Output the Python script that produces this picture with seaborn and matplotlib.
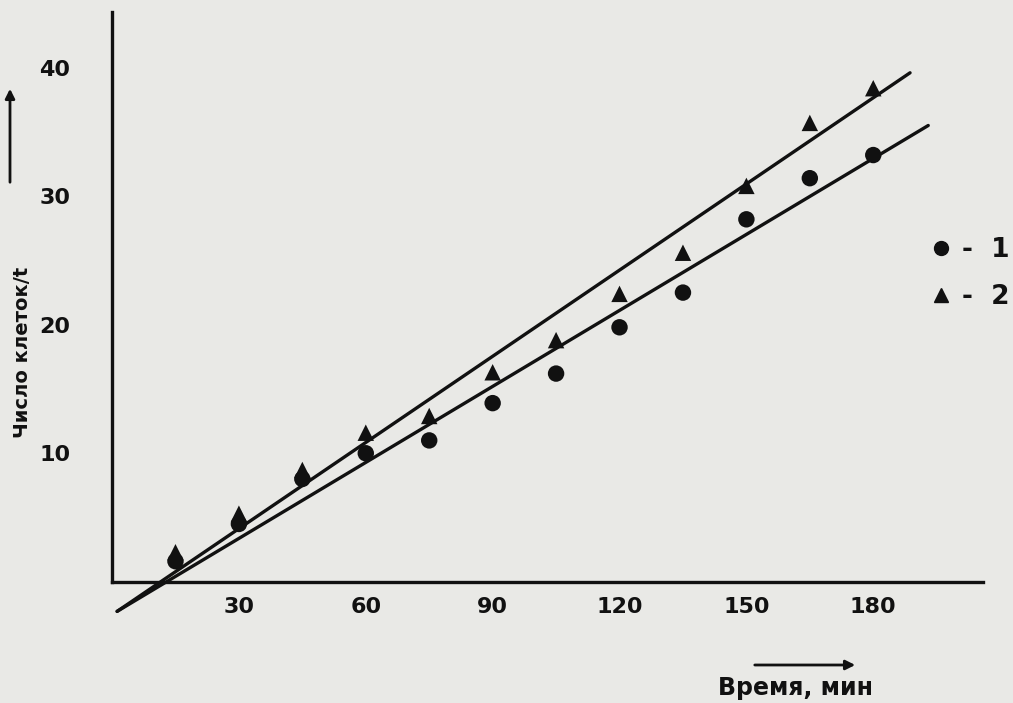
import matplotlib
matplotlib.use("Agg")
import matplotlib.pyplot as plt
import seaborn as sns
import numpy as np
import pandas as pd
from matplotlib.lines import Line2D

sns.set_style("white")
plt.rcParams['font.family'] = ['DejaVu Sans']

# время, мин
time_min = [15, 30, 45, 60, 75, 90, 105, 120, 135, 150, 165, 180]
# серия 1 (кружки)
cells_1 = [1.6, 4.5, 8.0, 10.0, 11.0, 13.9, 16.2, 19.8, 22.5, 28.2, 31.4, 33.2]
# серия 2 (треугольники)
cells_2 = [2.3, 5.3, 8.7, 11.6, 12.9, 16.3, 18.8, 22.4, 25.6, 30.8, 35.7, 38.4]

# линии регрессии (концы отрезков)
fit1_x = [1.2, 193.0]
fit1_y = [-2.3, 35.5]
fit2_x = [1.2, 188.7]
fit2_y = [-2.3, 39.6]

x_ticks = [30, 60, 90, 120, 150, 180]
x_minor = [15, 45, 75, 105, 135, 165]
y_ticks = [10, 20, 30, 40]
legend_labels = ['-  1', '-  2']

paper = '#e9e9e6'
ink = '#111111'

df = pd.DataFrame({
    't': time_min * 2,
    'n': cells_1 + cells_2,
    'series': ['1'] * len(time_min) + ['2'] * len(time_min),
})

fig = plt.figure(figsize=(10.13, 7.03), dpi=100, facecolor=paper)
ax = fig.add_axes([0.1106, 0.1084, 0.86, 0.874])
ax.set_facecolor(paper)

ax.plot(fit1_x, fit1_y, color=ink, lw=2.4, solid_capstyle='round', zorder=2)
ax.plot(fit2_x, fit2_y, color=ink, lw=2.4, solid_capstyle='round', zorder=2)

sns.scatterplot(data=df, x='t', y='n', hue='series', style='series',
                markers={'1': 'o', '2': '^'}, palette={'1': ink, '2': ink},
                s=140, edgecolor=ink, linewidth=0, legend=False, ax=ax, zorder=3)

ax.set_xlim(0, 206)
ax.set_ylim(-3.5, 44.3)

for s in ['top', 'right']:
    ax.spines[s].set_visible(False)
ax.spines['bottom'].set_position(('data', 0))
ax.spines['left'].set_bounds(0, 44.3)
for s in ['bottom', 'left']:
    ax.spines[s].set_linewidth(2.4)
    ax.spines[s].set_color(ink)

ax.set_xticks(x_ticks)
ax.set_xticks(x_minor, minor=True)
ax.set_yticks(y_ticks)
ax.tick_params(axis='both', which='both', direction='out', length=8, width=2,
               color=ink, labelsize=16, labelcolor=ink)
ax.tick_params(axis='y', pad=22)
ax.tick_params(axis='x', pad=3)
for lab in ax.get_xticklabels() + ax.get_yticklabels():
    lab.set_fontweight('bold')
ax.set_xlabel('')
ax.set_ylabel('')

fig.text(23 / 1013, 1 - 352 / 703, 'Число клеток/t', rotation=90,
         ha='center', va='center', fontsize=14, fontweight='bold', color=ink)
fig.text(795 / 1013, 1 - 688 / 703, 'Время, мин', ha='center', va='center',
         fontsize=17, fontweight='bold', color=ink)

# стрелки у подписей осей
fig.add_artist(matplotlib.patches.FancyArrowPatch(
    (10 / 1013, 1 - 185 / 703), (10 / 1013, 1 - 86 / 703),
    transform=fig.transFigure, arrowstyle='-|>', mutation_scale=14,
    color=ink, lw=2))
fig.add_artist(matplotlib.patches.FancyArrowPatch(
    (752 / 1013, 1 - 665 / 703), (858 / 1013, 1 - 665 / 703),
    transform=fig.transFigure, arrowstyle='-|>', mutation_scale=14,
    color=ink, lw=2))

handles = [
    Line2D([], [], marker='o', color=ink, ls='none', markersize=10),
    Line2D([], [], marker='^', color=ink, ls='none', markersize=10),
]
fig.legend(handles, legend_labels, loc='upper left',
           bbox_to_anchor=(928 / 1013, 1 - 237 / 703), frameon=False,
           borderpad=0, borderaxespad=0,
           prop={'size': 19, 'weight': 'bold'}, handletextpad=0.3,
           labelspacing=0.8, handlelength=1.0, labelcolor=ink)

fig.savefig('out.png', dpi=100, facecolor=paper)
